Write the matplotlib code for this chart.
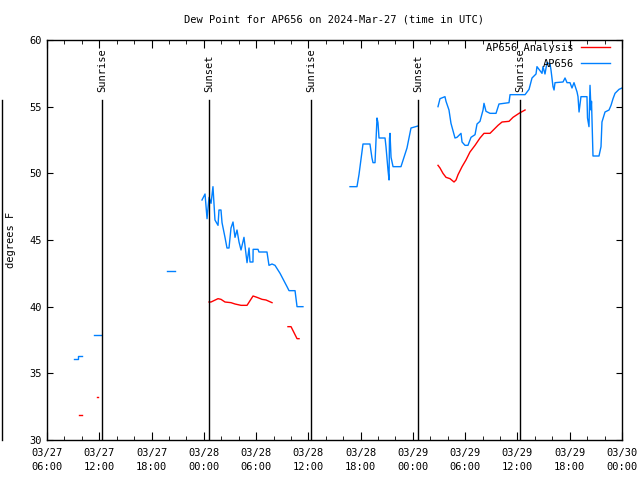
import matplotlib
matplotlib.use("Agg")
import matplotlib.pyplot as plt
import matplotlib.dates as mdates
from matplotlib.lines import Line2D
import pandas as pd
import numpy as np

plt.rcParams["font.family"] = ["DejaVu Sans Mono"]

# hours after 2024-03-27 06:00 UTC, segments separated by gaps
start = pd.Timestamp("2024-03-27 06:00")

obs_segments = [
    ([3.1, 3.6, 3.6, 4.0], [36.1, 36.1, 36.3, 36.3]),
    ([5.4, 6.2], [37.9, 37.9]),
    ([13.8, 14.7], [42.65, 42.65]),
    ([17.79, 18.14, 18.37, 18.6, 18.83, 19.05, 19.28, 19.63, 19.74, 19.97, 20.09,
      20.43, 20.66, 20.89, 21.12, 21.35, 21.58, 21.81, 22.04, 22.27, 22.61, 22.96,
      23.19, 23.3, 23.64, 23.66, 24.22, 24.33, 25.25, 25.48, 25.83, 26.17, 26.75,
      27.55, 27.78, 28.47, 28.7, 29.38],
     [48.0, 48.45, 46.6, 48.2, 47.75, 49.0, 46.5, 46.1, 47.25, 47.25, 46.3,
      45.2, 44.4, 44.4, 45.9, 46.35, 45.2, 45.75, 44.85, 44.25, 45.2, 43.3,
      44.4, 43.35, 43.35, 44.3, 44.3, 44.1, 44.1, 43.1, 43.2, 43.1, 42.5,
      41.5, 41.2, 41.2, 40.0, 40.0]),
    ([34.78, 35.58, 35.81, 36.27, 37.07, 37.3, 37.42, 37.65, 37.88, 37.99, 38.11,
      38.8, 38.91, 39.14, 39.26, 39.31, 39.37, 39.49, 39.72, 40.63, 41.32, 41.78,
      42.58],
     [49.0, 49.0, 49.9, 52.2, 52.2, 51.15, 50.8, 50.8, 54.15, 53.8, 52.65,
      52.65, 52.0, 50.25, 49.5, 52.6, 53.0, 51.2, 50.5, 50.5, 51.9, 53.4,
      53.55]),
    ([44.88, 45.11, 45.68, 45.8, 46.14, 46.37, 46.83, 47.06, 47.52, 47.64, 47.98,
      48.32, 48.67, 49.13, 49.36, 49.7, 50.05, 50.16, 50.39, 50.85, 51.54, 51.88,
      53.03, 53.15, 54.87, 55.33, 55.67, 56.13, 56.24, 56.82, 56.93, 57.16, 57.39,
      57.74, 57.85, 58.08, 58.2, 58.31, 59.23, 59.46, 59.69, 60.03, 60.26, 60.49,
      60.84, 60.95, 61.07, 61.29, 61.98, 62.04, 62.21, 62.33, 62.44, 62.5, 62.67,
      63.36, 63.59, 63.7, 64.05, 64.51, 64.74, 64.97, 65.2, 65.66, 66.0],
     [55.0, 55.6, 55.75, 55.4, 54.75, 53.75, 52.65, 52.7, 53.0, 52.35, 52.1,
      52.1, 52.7, 52.9, 53.7, 53.9, 54.75, 55.25, 54.65, 54.5, 54.5, 55.2,
      55.3, 55.9, 55.9, 56.3, 57.15, 57.45, 58.0, 57.5, 58.0, 57.45, 58.3,
      58.2, 57.75, 56.5, 56.25, 56.8, 56.85, 57.15, 56.8, 56.8, 56.4, 56.8,
      56.1, 55.75, 54.6, 55.75, 55.75, 54.15, 53.5, 56.6, 54.75, 55.4, 51.3,
      51.3, 52.0, 53.85, 54.6, 54.75, 55.1, 55.6, 56.0, 56.3, 56.4]),
]

analysis_segments = [
    ([3.7, 4.0], [31.9, 31.9]),
    ([5.7, 5.9], [33.2, 33.2]),
    ([18.6, 18.83, 19.63, 19.97, 20.43, 21.12, 21.58, 22.27, 22.96, 23.65, 24.1,
      24.68, 25.14, 25.83],
     [40.35, 40.35, 40.6, 40.55, 40.35, 40.3, 40.2, 40.1, 40.1, 40.8, 40.7,
      40.55, 40.5, 40.3]),
    ([27.66, 28.01, 28.7, 28.93], [38.5, 38.5, 37.6, 37.6]),
    ([42.65, 42.75], [49.35, 49.35]),
    ([44.88, 45.11, 45.45, 45.8, 46.26, 46.72, 46.95, 47.18, 47.64, 48.09, 48.55,
      49.13, 49.7, 50.16, 50.85, 51.31, 51.77, 52.23, 53.03, 53.49, 54.18, 54.87],
     [50.6, 50.4, 50.0, 49.7, 49.6, 49.35, 49.5, 49.9, 50.5, 51.0, 51.6,
      52.1, 52.65, 53.0, 53.0, 53.3, 53.6, 53.85, 53.9, 54.2, 54.5, 54.75]),
]

sun_hours = [6.3, 18.6, 30.3, 42.6, 54.3]
sun_labels = ["Sunrise", "Sunset", "Sunrise", "Sunset", "Sunrise"]


def to_time(hours):
    return start + pd.to_timedelta(np.array(hours), unit="h")


fig = plt.figure(figsize=(6.4, 4.8), dpi=100)
ax = fig.add_axes([47 / 640, 40 / 480, 575 / 640, 400 / 480])

for i, (h, v) in enumerate(analysis_segments):
    ax.plot(to_time(h), v, color="#ff0000", lw=1.0,
            label="AP656 Analysis" if i == 0 else None)
for i, (h, v) in enumerate(obs_segments):
    ax.plot(to_time(h), v, color="#0080ff", lw=1.0,
            label="AP656" if i == 0 else None)

for h, lab in zip(sun_hours, sun_labels):
    t = start + pd.Timedelta(hours=h)
    ax.plot([t, t], [30, 55.5], color="black", lw=1.0)
    ax.text(t, 56.1, lab, rotation=90, ha="center", va="bottom", fontsize=7.5)

ax.set_xlim(start, start + pd.Timedelta(hours=66))
ax.set_ylim(30, 60)
ax.set_yticks(range(30, 61, 5))
ax.xaxis.set_major_locator(mdates.HourLocator(byhour=[0, 6, 12, 18]))
ax.xaxis.set_minor_locator(mdates.HourLocator(interval=2))
ax.xaxis.set_major_formatter(mdates.DateFormatter("%m/%d\n%H:%M"))
ax.tick_params(axis="x", which="major", direction="in", length=6, top=True,
               labelsize=7.5, pad=6)
ax.tick_params(axis="x", which="minor", direction="in", length=3, top=True)
ax.tick_params(axis="y", direction="in", length=4, right=True, labelsize=7.5)
fig.canvas.draw()
for lab in ax.get_xticklabels():
    lab.set_linespacing(1.5)
for s in ax.spines.values():
    s.set_linewidth(1.0)

ax.set_ylabel("degrees F", fontsize=7.5, labelpad=10)
ax.set_title("Dew Point for AP656 on 2024-Mar-27 (time in UTC)", fontsize=7.5, pad=12.5)

ax.legend(loc="upper right", bbox_to_anchor=(0.987, 1.004), frameon=False,
          markerfirst=False, fontsize=7.5, handlelength=2.8, labelspacing=0.6,
          borderaxespad=0.0, handletextpad=0.7)

fig.add_artist(Line2D([1.5 / 640, 1.5 / 640], [40 / 480, 380 / 480],
                      color="black", lw=1.0))

fig.savefig("out.png", dpi=100)
